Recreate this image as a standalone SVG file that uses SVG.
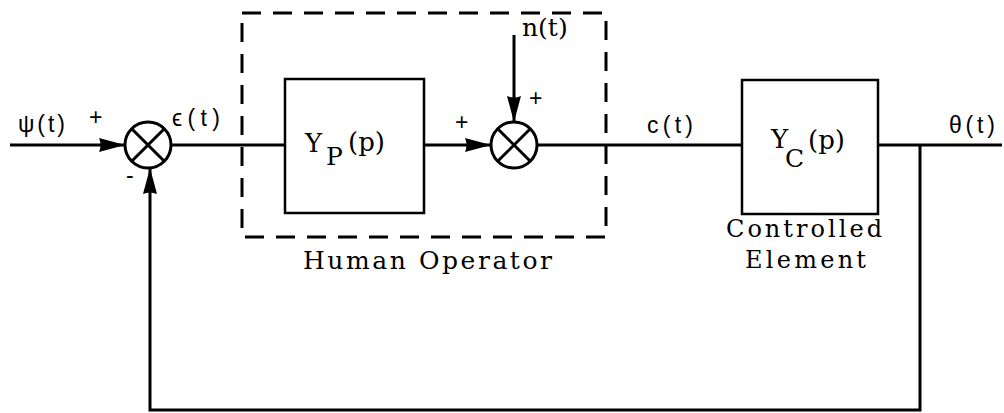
<svg xmlns="http://www.w3.org/2000/svg" width="1004" height="413" viewBox="0 0 1004 413">
<style>
.ln{fill:none;stroke:#000;stroke-width:3}
.bx{fill:#fff;stroke:#000;stroke-width:2.5}
.dash{fill:none;stroke:#000;stroke-width:3;stroke-dasharray:19 12}
.sans{font-family:"Liberation Sans",Arial,sans-serif;font-size:23px;fill:#000}
.serif{font-family:"DejaVu Serif","Liberation Serif",serif;fill:#000}
</style>
<defs>
<marker id="arr" markerUnits="userSpaceOnUse" markerWidth="28" markerHeight="18" refX="26" refY="9" orient="auto">
<path d="M0,2 L26,9 L0,16 Q3,9 0,2 Z" fill="#000"/>
</marker>
</defs>
<g id="connectors">
<line class="ln" x1="10" y1="145" x2="125" y2="145" marker-end="url(#arr)"/>
<line class="ln" x1="171" y1="145" x2="285" y2="145"/>
<line class="ln" x1="424" y1="145" x2="491" y2="145" marker-end="url(#arr)"/>
<line class="ln" x1="514" y1="35" x2="514" y2="122" marker-end="url(#arr)"/>
<line class="ln" x1="537" y1="145" x2="742" y2="145"/>
<line class="ln" x1="878" y1="145" x2="1002" y2="145"/>
<polyline class="ln" points="920,145 920,410 150,410 150,168" marker-end="url(#arr)"/>
</g>
<g id="human-operator">
<rect class="dash" x="242" y="13" width="364" height="224"/>
<text class="serif" font-size="25" x="303" y="269" textLength="249" lengthAdjust="spacing">Human Operator</text>
</g>
<g id="sum1">
<circle class="ln" cx="148" cy="145" r="23"/>
<line class="ln" x1="131.7" y1="128.7" x2="164.3" y2="161.3"/>
<line class="ln" x1="164.3" y1="128.7" x2="131.7" y2="161.3"/>
</g>
<g id="Yp">
<rect class="bx" x="285" y="79" width="139" height="134"/>
<text class="serif" font-size="26" x="305" y="152">Y</text>
<text class="serif" font-size="25" x="326" y="165">P</text>
<text class="serif" font-size="26" x="348" y="151">(p)</text>
</g>
<g id="sum2">
<circle class="ln" cx="514" cy="145" r="23"/>
<line class="ln" x1="497.7" y1="128.7" x2="530.3" y2="161.3"/>
<line class="ln" x1="530.3" y1="128.7" x2="497.7" y2="161.3"/>
</g>
<g id="Yc">
<rect class="bx" x="742" y="80" width="136" height="134"/>
<text class="serif" font-size="26" x="771" y="148">Y</text>
<text class="serif" font-size="25" x="785" y="167">C</text>
<text class="serif" font-size="26" x="808" y="149">(p)</text>
<text class="serif" font-size="24" x="726" y="237" textLength="156" lengthAdjust="spacing">Controlled</text>
<text class="serif" font-size="24" x="745" y="268" textLength="121" lengthAdjust="spacing">Element</text>
</g>
<g id="labels">
<text class="sans" x="18" y="132" textLength="47" lengthAdjust="spacing">ψ(t)</text>
<text class="sans" x="89" y="125">+</text>
<text class="sans" x="172" y="126" textLength="48" lengthAdjust="spacing">ϵ(t)</text>
<text class="sans" x="126" y="183">-</text>
<text class="serif" font-size="25" x="522" y="36">n(t)</text>
<text class="sans" x="529" y="106">+</text>
<text class="sans" x="455" y="130">+</text>
<text class="sans" x="647" y="133" textLength="46" lengthAdjust="spacing">c(t)</text>
<text class="sans" x="949" y="133" textLength="46" lengthAdjust="spacing">θ(t)</text>
</g>
</svg>
